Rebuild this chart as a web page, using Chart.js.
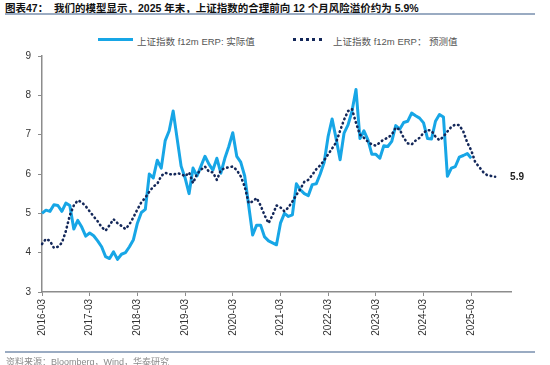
<!DOCTYPE html>
<html>
<head>
<meta charset="utf-8">
<script src="https://cdn.jsdelivr.net/npm/chart.js@4.4.1/dist/chart.umd.min.js"></script>
<style>
  html, body { margin: 0; padding: 0; background: #fff; }
  body { width: 550px; height: 365px; position: relative; overflow: hidden;
         font-family: "Liberation Sans", Arial, "Noto Sans CJK SC", sans-serif; }
  #title { position: absolute; left: 5px; top: 0px; font-size: 10.5px; font-weight: bold; color: #111; white-space: nowrap; }
  .rule { position: absolute; left: 5px; width: 530px; height: 2px; background: #9aabc2; }
  #source { position: absolute; left: 6px; top: 355px; font-size: 9px; color: #8a8a8a; white-space: nowrap; }
  .leg { position: absolute; top: 34px; font-size: 9.5px; color: #555; white-space: nowrap; }
  #wrap { position: absolute; left: 0; top: 0; width: 550px; height: 365px; }
</style>
</head>
<body>
<div id="title">图表47：&nbsp;&nbsp;我们的模型显示，2025 年末，上证指数的合理前向 12 个月风险溢价约为 5.9%</div>
<div class="rule" style="top:13px"></div>
<div style="position:absolute;left:98px;top:38px;width:35px;height:3px;background:#17a6e6"></div>
<div class="leg" style="left:137px">上证指数 f12m ERP: 实际值</div>
<div style="position:absolute;left:293px;top:38px;width:29px;height:0;border-top:3px dotted #14285a"></div>
<div class="leg" style="left:333px">上证指数 f12m ERP：&nbsp;预测值</div>
<div id="wrap"><canvas id="chart" width="550" height="365"></canvas></div>
<div class="rule" style="top:351px"></div>
<div id="source">资料来源：Bloomberg，Wind，华泰研究</div>

<script>
// ---- data ----
// monthly categories, 2016-03 .. 2026-01
const months = [];
for (let y = 2016; y <= 2026; y++) {
  for (let m = 1; m <= 12; m++) {
    if (y === 2016 && m < 3) continue;
    if (y === 2026 && m > 1) continue;
    months.push(y + '-' + String(m).padStart(2, '0'));
  }
}

// actual f12m ERP (2016-03 .. 2025-03)
const actualErp = [
  5.00, 5.08, 5.05, 5.22, 5.20, 5.05, 5.26, 5.20, 4.60, 4.82, 4.65, 4.42,
  4.50, 4.43, 4.30, 4.15, 3.90, 3.85, 4.02, 3.83, 3.96, 4.00, 4.15, 4.33,
  4.75, 5.02, 5.10, 6.00, 5.90, 6.35, 6.15, 6.85, 7.10, 7.60, 6.90, 6.20,
  5.90, 5.50, 6.15, 5.95, 6.20, 6.45, 6.25, 6.10, 6.40, 6.02, 6.40, 6.70,
  7.05, 6.45, 6.30, 5.95, 5.20, 4.45, 4.70, 4.70, 4.40, 4.30, 4.25, 4.20,
  4.75, 5.00, 4.92, 4.96, 5.75, 5.60, 5.50, 5.45, 5.73, 5.75, 6.00, 6.30,
  6.96, 7.40, 6.90, 6.36, 7.04, 7.25, 7.60, 8.15, 6.90, 7.10, 6.87, 6.50,
  6.50, 6.40, 6.72, 6.70, 6.83, 7.23, 7.14, 7.31, 7.34, 7.55, 7.48, 7.42,
  7.30, 6.90, 6.89, 7.34, 7.51, 7.45, 5.94, 6.15, 6.19, 6.43, 6.47, 6.52,
  6.40
];

// model forecast f12m ERP (2016-03 .. 2025-09)
const forecastErp = [
  4.22, 4.35, 4.30, 4.12, 4.15, 4.25, 4.55, 4.95, 5.20, 5.33, 5.28, 5.18,
  5.05, 4.92, 4.80, 4.65, 4.56, 4.70, 4.85, 4.75, 4.68, 4.60, 4.72, 4.90,
  5.10, 5.28, 5.40, 5.55, 5.68, 5.75, 5.95, 6.03, 6.00, 5.98, 6.02, 6.00,
  5.94, 6.04, 5.77, 6.00, 6.11, 6.19, 6.06, 6.04, 5.85, 6.10, 6.15, 6.17,
  6.19, 6.10, 5.94, 5.68, 5.26, 5.30, 5.39, 5.20, 4.95, 4.75, 4.95, 5.20,
  5.15, 5.05, 5.15, 5.30, 5.47, 5.62, 5.80, 5.85, 5.98, 6.12, 6.22, 6.35,
  6.50, 6.65, 6.80, 7.10, 7.38, 7.60, 7.65, 7.30, 7.00, 6.92, 6.82, 6.75,
  6.72, 6.80, 6.88, 6.92, 7.00, 7.18, 7.13, 6.92, 6.78, 6.75, 6.85, 6.92,
  7.05, 7.12, 7.10, 6.95, 6.86, 6.95, 7.08, 7.20, 7.26, 7.24, 7.08, 6.80,
  6.60, 6.30, 6.18, 6.05, 5.97, 5.95, 5.93
];

const endLabel = '5.9';

// label printed to the right of the last forecast point
const endLabelPlugin = {
  id: 'endLabel',
  afterDatasetsDraw(chart) {
    const meta = chart.getDatasetMeta(1);
    const pt = meta.data[forecastErp.length - 1];
    if (!pt) return;
    const ctx = chart.ctx;
    ctx.save();
    ctx.font = 'bold 10px "Liberation Sans", Arial, sans-serif';
    ctx.fillStyle = '#222';
    ctx.textAlign = 'left';
    ctx.textBaseline = 'middle';
    ctx.fillText(endLabel, pt.x + 15, pt.y);
    ctx.restore();
  }
};

const axisColor = '#8c8c8c';
const tickFont = { family: '"Liberation Sans", Arial, sans-serif', size: 10 };

new Chart(document.getElementById('chart'), {
  type: 'line',
  data: {
    labels: months,
    datasets: [
      {
        label: '上证指数 f12m ERP: 实际值',
        data: actualErp,
        borderColor: '#17a6e6',
        borderWidth: 3,
        pointRadius: 0,
        tension: 0,
        borderJoinStyle: 'round',
        order: 2
      },
      {
        label: '上证指数 f12m ERP：预测值',
        data: forecastErp,
        borderColor: '#14285a',
        borderWidth: 2.6,
        borderDash: [0.5, 4],
        borderCapStyle: 'round',
        pointRadius: 0,
        tension: 0,
        order: 1
      }
    ]
  },
  options: {
    responsive: false,
    animation: false,
    layout: { padding: { left: 0, top: 56, right: 39, bottom: 0 } },
    plugins: { legend: { display: false }, tooltip: { enabled: false } },
    scales: {
      x: {
        offset: false,
        grid: { display: true, drawOnChartArea: false, tickLength: 4, color: axisColor },
        border: { color: axisColor, width: 1.5 },
        ticks: {
          autoSkip: false,
          maxRotation: 90,
          minRotation: 90,
          padding: 3,
          color: '#333',
          font: tickFont,
          callback: function (val) {
            const lab = this.getLabelForValue(val);
            return lab.endsWith('-03') ? lab : null;
          }
        },
        afterFit(scale) { scale.height = 73; }
      },
      y: {
        min: 3,
        max: 9,
        grid: { display: true, drawOnChartArea: false, tickLength: 4, color: axisColor },
        border: { color: axisColor, width: 1.5 },
        ticks: { stepSize: 1, padding: 7, color: '#333', font: tickFont },
        afterFit(scale) { scale.width = 42; }
      }
    }
  },
  plugins: [endLabelPlugin]
});
</script>
</body>
</html>
